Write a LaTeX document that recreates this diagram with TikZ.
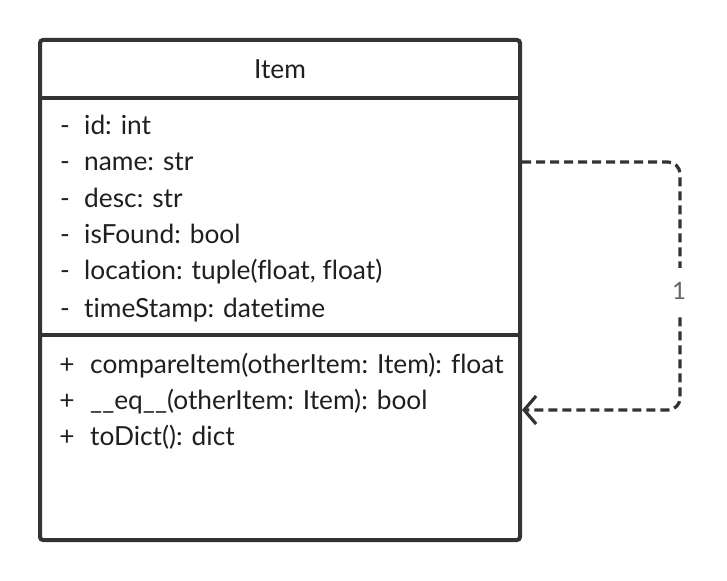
\documentclass[tikz,border=0pt]{standalone}
\usepackage{fontspec}
\setmainfont{Lato}[Ligatures={NoCommon}]
\usetikzlibrary{arrows.meta}
\definecolor{ln}{HTML}{333333}
\definecolor{tx}{HTML}{1f1f1f}
\definecolor{lbl}{HTML}{666666}
\tikzset{
  member/.style={anchor=base west, inner sep=0pt, text=tx, font=\fontsize{26.3}{30}\selectfont},
  sym/.style={anchor=base, inner sep=0pt, text=tx, font=\fontsize{26.3}{30}\selectfont},
  classbox/.style={draw=ln, line width=4pt, rounded corners=3pt, fill=white},
  divider/.style={draw=ln, line width=4pt},
  dep/.style={draw=ln, line width=3.2pt, dash pattern=on 9pt off 5pt, rounded corners=12pt,
    -{Straight Barb[length=12pt, width=28pt, line width=3.2pt]}},
}
\begin{document}
\begin{tikzpicture}[x=1pt,y=-1pt]
\useasboundingbox (0,0) rectangle (727,580);
\node[classbox, minimum width=480pt, minimum height=500pt, inner sep=0pt] (item) at (280,290) {};
\node[anchor=base, inner sep=0pt, text=tx, font=\fontsize{26.3}{30}\selectfont] (title) at (280,79) {Item};
\coordinate (d1l) at (item.west |- 0,98);
\coordinate (d1r) at (item.east |- 0,98);
\coordinate (d2l) at (item.west |- 0,335);
\coordinate (d2r) at (item.east |- 0,335);
\draw[divider] (d1l) -- (d1r);
\draw[divider] (d2l) -- (d2r);
% attributes
\node[sym] (a1s) at (65,135) {-}; \node[member] (a1) at (84,135) {id: int};
\node[sym] (a2s) at (65,171) {-}; \node[member] (a2) at (84,171) {name: str};
\node[sym] (a3s) at (65,207) {-}; \node[member] (a3) at (84,207) {desc: str};
\node[sym] (a4s) at (65,243) {-}; \node[member] (a4) at (84,243) {isFound: bool};
\node[sym] (a5s) at (65,279) {-}; \node[member] (a5) at (84,279) {location: tuple(float, float)};
\node[sym] (a6s) at (65,317) {-}; \node[member] (a6) at (84,317) {timeStamp: datetime};
% methods
\node[sym] (m1s) at (67,373) {+}; \node[member] (m1) at (90,373) {compareItem(otherItem: Item): float};
\node[sym] (m2s) at (67,409) {+}; \node[member] (m2) at (90,409) {\_\_eq\_\_(otherItem: Item): bool};
\node[sym] (m3s) at (67,445) {+}; \node[member] (m3) at (90,445) {toDict(): dict};
% self dependency
\coordinate (src) at (item.east |- 0,162);
\coordinate (dst) at (item.east |- 0,410);
\draw[dep] (src) -- (680,162) -- (680,410) -- (dst);
\node[fill=white, text=lbl, inner xsep=2pt, inner ysep=14pt, font=\fontsize{24}{28}\selectfont] (mult) at (679,291) {1};
\end{tikzpicture}
\end{document}
